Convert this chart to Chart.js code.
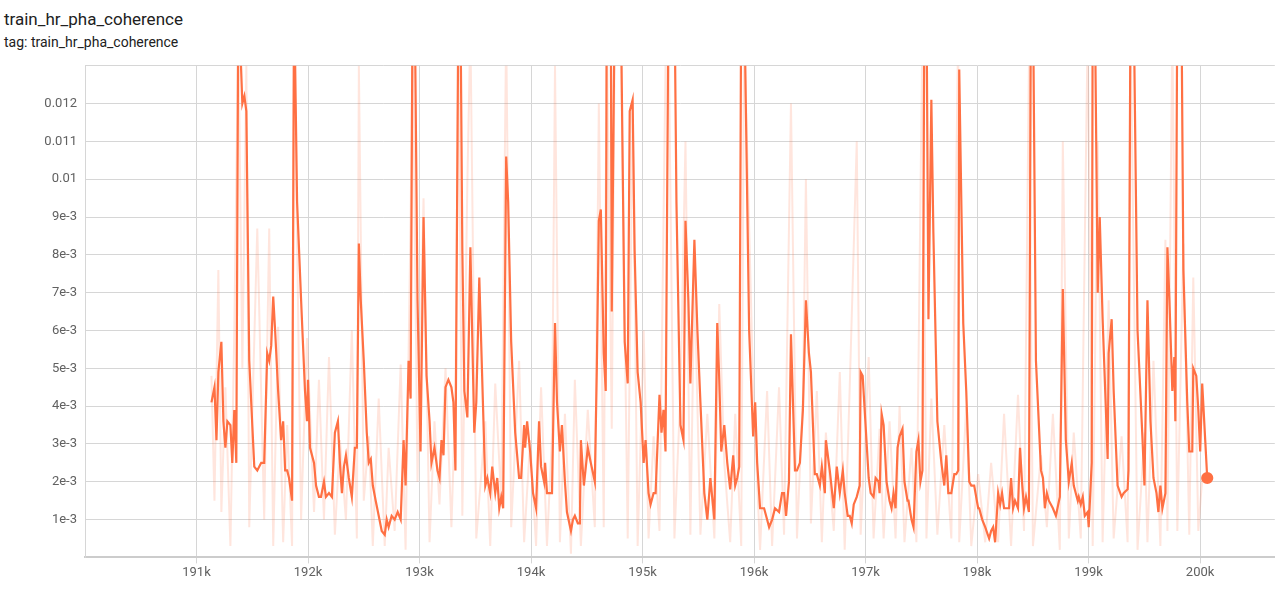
<!DOCTYPE html>
<html><head><meta charset="utf-8">
<script src="https://cdn.jsdelivr.net/npm/chart.js@4/dist/chart.umd.min.js"></script>
<style>
body{margin:0;background:#fff;font-family:Roboto,"Noto Sans",sans-serif;}
#t{position:absolute;left:4px;top:9px;font-size:17px;color:#212121;}
#s{position:absolute;left:4px;top:34px;font-size:14px;color:#212121;}
#w{position:absolute;left:0;top:50px;width:1282px;height:533px;}
</style></head><body>
<div id="t">train_hr_pha_coherence</div>
<div id="s">tag: train_hr_pha_coherence</div>
<div id="w"><canvas id="c"></canvas></div>
<script>
const title = "train_hr_pha_coherence";
// steps offset from 191000
const stepOffsets = [134,161,179,196,223,241,259,277,304,321,339,357,375,411,429,447,473,518,545,580,607,634,652,670,688,705,732,759,777,795,813,830,857,875,902,938,973,991,1000,1018,1054,1072,1098,1116,1143,1161,1188,1214,1241,1268,1286,1304,1322,1340,1366,1393,1420,1438,1456,1473,1500,1527,1545,1563,1581,1607,1634,1661,1688,1706,1723,1750,1777,1804,1831,1857,1875,1902,1920,1938,1956,1982,2009,2036,2063,2090,2107,2134,2161,2179,2197,2215,2233,2259,2286,2304,2322,2349,2366,2384,2402,2429,2456,2491,2509,2536,2590,2608,2634,2652,2679,2697,2715,2733,2750,2777,2795,2822,2858,2893,2911,2938,2947,2965,2992,3018,3045,3072,3090,3117,3126,3143,3170,3188,3215,3233,3259,3277,3304,3322,3358,3376,3393,3420,3438,3447,3474,3509,3536,3572,3590,3608,3626,3652,3670,3679,3715,3724,3751,3804,3840,3867,3885,3911,3929,3956,3983,4010,4027,4054,4072,4099,4117,4152,4170,4188,4206,4233,4286,4304,4340,4367,4385,4411,4429,4465,4492,4519,4554,4581,4608,4644,4670,4688,4706,4733,4760,4786,4813,4831,4849,4867,4885,4911,4956,4992,5010,5028,5054,5090,5117,5135,5162,5188,5224,5251,5269,5287,5313,5331,5367,5385,5411,5438,5465,5492,5510,5545,5563,5590,5608,5635,5644,5679,5715,5742,5769,5796,5813,5840,5858,5876,5894,5921,5947,5956,5974,5992,6028,6046,6072,6090,6117,6126,6144,6162,6188,6215,6233,6251,6269,6287,6305,6331,6349,6376,6385,6412,6430,6456,6474,6492,6510,6528,6546,6564,6590,6608,6644,6680,6706,6724,6742,6769,6796,6813,6831,6840,6876,6903,6930,6948,6974,7010,7019,7046,7073,7108,7126,7144,7162,7189,7207,7224,7242,7287,7305,7323,7340,7367,7385,7403,7421,7439,7465,7483,7501,7528,7573,7591,7608,7626,7644,7680,7707,7742,7769,7796,7823,7849,7867,7903,7912,7930,7948,7966,7992,8001,8028,8037,8055,8082,8100,8126,8171,8180,8207,8225,8260,8296,8314,8350,8358,8376,8403,8439,8484,8501,8528,8555,8582,8609,8626,8644,8662,8689,8707,8725,8751,8769,8778,8796,8832,8850,8885,8903,8930,8939,8966,8984,9001,9019,9046,9064];
// smoothed values in units of 1e-3
const smoothed = [4.1,4.5,3.1,4.9,5.7,3.6,2.9,3.6,3.5,2.5,3.9,2.5,15,12.0,12.2,11.8,5.2,2.4,2.3,2.5,2.5,5.4,5.2,5.6,6.9,6.0,4.4,3.1,3.6,2.3,2.3,2.1,1.5,15,9.4,6.8,4.4,3.6,4.7,2.9,2.5,1.9,1.6,1.6,2.0,1.6,1.7,1.6,3.3,3.6,2.5,1.7,2.4,2.7,2.1,1.6,2.9,2.9,8.3,6.8,5.2,3.3,2.5,2.6,1.9,1.5,1.1,0.7,0.6,1.0,0.8,1.1,1.0,1.2,1.0,3.1,1.9,5.2,4.2,15,15,6.8,2.8,9.0,4.8,3.6,2.5,2.9,2.3,2.1,3.1,2.7,4.5,4.7,4.5,4.1,2.3,15,15,8.1,4.4,3.7,8.2,3.3,4.1,7.4,1.9,2.1,1.7,2.4,1.7,2.1,1.3,1.6,1.3,10.6,9.4,5.7,3.3,2.1,2.1,3.5,2.9,3.6,2.8,1.7,1.3,3.6,2.4,2.0,2.5,1.7,1.7,1.7,6.2,4.1,2.8,3.5,2.0,1.2,0.7,1.0,1.1,0.9,0.9,3.1,1.9,2.9,2.5,2.0,5.0,8.9,9.2,5.4,4.4,15,15,6.5,15,15,5.7,4.6,11.8,12.1,8.1,4.9,4.1,2.5,3.1,1.7,1.4,1.7,1.7,4.3,3.3,3.9,2.8,15,15,9.4,3.5,3.1,8.9,6.8,4.6,8.4,6.0,4.1,1.7,1.0,2.1,1.0,6.2,4.7,2.8,3.5,2.5,1.8,2.7,1.9,2.1,2.4,15,15,6.0,3.2,4.1,2.5,1.3,1.3,1.0,0.8,1.0,1.3,1.2,1.7,1.7,1.1,2.0,5.9,2.3,2.3,2.5,3.9,6.8,5.4,4.9,2.2,2.2,1.9,2.4,1.7,3.1,2.3,1.3,2.4,1.7,2.3,1.7,1.1,1.1,0.9,1.4,1.6,1.9,4.9,4.8,3.9,2.1,1.7,1.6,2.1,2.0,1.7,3.8,3.5,2.0,1.5,1.3,1.7,1.3,2.9,3.2,3.4,2.0,1.5,1.5,1.0,0.8,2.8,3.1,2.0,2.3,15,15,6.3,12.1,8.6,3.6,2.5,1.9,2.7,1.7,1.7,2.2,2.2,2.3,12.9,6.2,4.4,2.0,1.9,1.9,1.3,1.3,1.0,0.8,0.5,0.7,0.8,0.4,1.7,1.4,1.7,1.3,1.3,2.1,1.3,1.5,1.3,2.9,2.0,1.3,1.6,1.2,15,15,5.2,2.3,2.1,1.3,1.7,1.5,1.3,1.1,1.6,7.1,3.1,2.0,2.5,1.9,1.5,1.6,1.4,1.6,1.1,1.2,0.8,2.5,15,15,7.0,9.0,6.3,2.6,5.4,6.3,4.4,1.9,1.6,1.7,1.8,2.3,15,15,6.0,3.1,1.9,6.8,3.6,2.1,1.7,1.2,1.9,1.3,1.7,8.2,6.8,4.4,5.3,3.6,15,15,7.6,4.1,2.8,2.8,5.0,4.8,3.9,2.8,4.6,3.1,2.1];
// raw values (faint line), units of 1e-3
const rawOffsets = [134,161,196,223,259,304,339,375,411,447,473,545,607,652,688,732,777,813,857,875,938,991,1054,1098,1143,1188,1241,1286,1340,1393,1438,1456,1500,1545,1581,1634,1688,1723,1777,1831,1875,1920,1938,1982,2036,2090,2134,2179,2233,2286,2322,2349,2384,2429,2456,2509,2590,2634,2679,2733,2777,2822,2893,2938,2992,3045,3090,3143,3188,3215,3259,3304,3358,3393,3447,3509,3572,3608,3652,3679,3724,3751,3804,3867,3911,3956,4010,4054,4099,4152,4206,4233,4286,4340,4385,4429,4465,4519,4581,4644,4688,4733,4786,4831,4885,4911,4992,5054,5117,5162,5224,5269,5331,5385,5438,5465,5510,5563,5608,5644,5715,5769,5813,5858,5921,5956,6028,6072,6126,6162,6215,6269,6305,6349,6412,6456,6510,6546,6590,6644,6706,6769,6831,6840,6903,6948,7010,7073,7126,7189,7242,7305,7367,7421,7465,7501,7573,7626,7680,7742,7769,7823,7867,7930,7992,8037,8082,8126,8180,8225,8296,8350,8376,8439,8501,8528,8582,8644,8689,8707,8751,8796,8850,8903,8939,8984,9019,9046,9064];
const raw = [4.8,1.5,7.6,1.2,4.5,0.3,6.0,14,5.0,13,0.8,8.7,1.0,8.7,0.3,6.1,0.4,3.5,0.3,14,1.0,5.8,1.2,4.7,1.0,5.3,0.6,3.1,1.0,6.0,0.5,13,1.5,3.2,0.3,4.2,0.3,2.9,0.7,5.1,0.2,8.9,14,2.0,9.5,0.4,3.6,1.4,5.0,0.8,4.2,14,1.1,9.9,14,0.5,3.6,0.3,4.6,1.5,14,0.8,5.2,0.4,3.1,0.3,4.5,0.3,3.2,13,0.4,3.8,0.1,4.7,0.3,3.9,0.8,12,0.8,14,3.4,14,14,0.5,12,0.3,6.0,0.5,3.2,0.7,13,14,0.5,4.4,11,0.6,7.4,0.6,3.8,0.5,6.7,2.5,0.4,3.8,0.3,14,4.5,0.2,4.4,0.3,4.5,0.6,12,0.5,4.2,10,0.9,4.4,0.4,3.3,0.7,4.9,0.2,4.5,11,0.6,5.3,0.5,3.4,0.5,3.6,0.5,4.0,0.4,2.9,0.4,14,0.5,4.2,0.6,3.5,0.5,14,0.4,4.0,0.3,2.2,0.4,2.5,0.4,3.8,0.3,4.3,0.7,13,0.3,2.7,0.8,3.8,0.2,11,0.5,3.3,0.5,14,0.3,11,0.4,6.8,0.5,3.2,0.4,14,0.2,3.3,0.4,5.2,0.3,8.4,0.7,14,0.7,8.3,0.6,7.4,0.7,2.1];
const xTicks = [191000,192000,193000,194000,195000,196000,197000,198000,199000,200000];
const pts = (offs, vals) => offs.map((o,i)=>({x:191000+o, y:vals[i]*1e-3}));
const orange = '#ff7043';
new Chart(document.getElementById('c'), {
  type:'line',
  data:{datasets:[
    {data:pts(stepOffsets,smoothed), borderColor:orange, borderWidth:2.2, tension:0,
     pointRadius:ctx=>ctx.dataIndex===smoothed.length-1?5:0, pointBackgroundColor:orange, pointBorderColor:orange, order:0},
    {data:pts(rawOffsets,raw), borderColor:'rgba(255,112,67,0.18)', borderWidth:2, tension:0, pointRadius:0, order:1}
  ]},
  options:{
    responsive:true, maintainAspectRatio:false, animation:false,
    layout:{padding:{right:0,top:15}},
    plugins:{legend:{display:false}, tooltip:{enabled:false}},
    scales:{
      x:{type:'linear', min:190000, max:200670,
        afterBuildTicks:s=>{s.ticks = xTicks.map(v=>({value:v}));},
        ticks:{color:'#616161', font:{family:'Roboto',size:13}, maxRotation:0, autoSkip:false, padding:2,
          callback:v=> Math.round(v/1000)+'k'},
        grid:{color:'#d6d6d6', drawTicks:true, tickLength:6}, border:{color:'#cccccc', width:2}},
      y:{min:0, max:0.013,
        ticks:{stepSize:0.001, color:'#616161', font:{family:'Roboto',size:13}, padding:8,
          callback:v=>{const k=Math.round(v*1000); if(k<=0||k>=13) return ''; return k<10? k+'e-3' : (k===10?'0.01':'0.0'+k);}},
        afterFit:s=>{s.width=85;},
        grid:{color:'#d6d6d6', tickLength:0}, border:{color:'#d6d6d6'}}
    }
  }
});
</script></body></html>
